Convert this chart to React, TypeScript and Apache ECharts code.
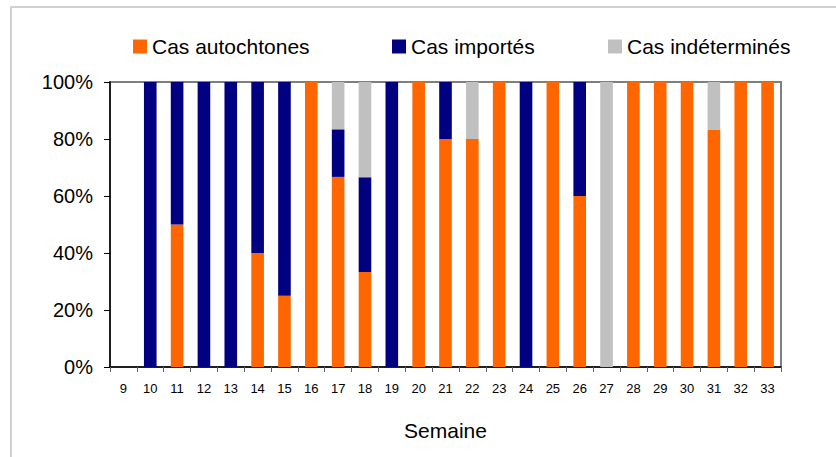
import React, { useEffect, useRef } from "react";
import * as echarts from "echarts";

const weeks = ["9","10","11","12","13","14","15","16","17","18","19","20","21","22","23","24","25","26","27","28","29","30","31","32","33"];
const autochtones = [0,0,50,0,0,40,25,100,66.7,33.3,0,100,80,80,100,0,100,60,0,100,100,100,83.3,100,100];
const importes = [0,100,50,100,100,60,75,0,16.7,33.3,100,0,20,0,0,100,0,40,0,0,0,0,0,0,0];
const indetermines = [0,0,0,0,0,0,0,0,16.6,33.4,0,0,0,20,0,0,0,0,100,0,0,0,16.7,0,0];
const yTicks = [0, 20, 40, 60, 80, 100];

const seriesNames = ["Cas autochtones", "Cas importés", "Cas indéterminés"];
const colors = ["#FF6600", "#000080", "#C0C0C0"];
const FONT = "'Liberation Sans', Arial, sans-serif";

export default function App() {
  const ref = useRef<HTMLDivElement>(null);
  useEffect(() => {
    if (!ref.current) return;
    const chart = echarts.init(ref.current, null, { renderer: "svg" });
    const legendLefts = [133, 392, 608];
    const data = [autochtones, importes, indetermines];
    chart.setOption({
      animation: false,
      backgroundColor: "#ffffff",
      textStyle: { fontFamily: FONT },
      graphic: [
        {
          type: "rect",
          shape: { x: 11, y: 7, width: 900, height: 500 },
          style: { fill: "none", stroke: "#d0d0d0", lineWidth: 2 },
          silent: true,
        },
      ],
      legend: seriesNames.map((n, i) => ({
        data: [n],
        left: legendLefts[i],
        top: 36,
        icon: "rect",
        itemWidth: 14,
        itemHeight: 14,
        itemGap: 0,
        textStyle: { fontSize: 21, color: "#000", fontFamily: FONT, padding: [0, 0, 0, 0] },
        padding: 0,
      })),
      grid: {
        left: 110,
        right: 55,
        top: 82,
        bottom: 90,
        show: true,
        borderColor: "#7f7f7f",
        borderWidth: 2,
        backgroundColor: "#ffffff",
      },
      xAxis: {
        type: "category",
        data: weeks,
        name: "Semaine",
        nameLocation: "middle",
        nameGap: 53,
        nameTextStyle: { fontSize: 21, color: "#000", fontFamily: FONT },
        axisLine: { lineStyle: { color: "#000", width: 1.5 } },
        axisTick: { show: true, alignWithLabel: false, length: 5, lineStyle: { color: "#606060" } },
        axisLabel: { fontSize: 13, color: "#000", margin: 15, interval: 0, fontFamily: FONT },
      },
      yAxis: {
        type: "value",
        min: yTicks[0],
        max: yTicks[yTicks.length - 1],
        interval: 20,
        splitLine: { show: false },
        axisLine: { show: true, lineStyle: { color: "#000", width: 1.5 } },
        axisTick: { show: true, length: 6, lineStyle: { color: "#000" } },
        axisLabel: { formatter: "{value}%", fontSize: 20, color: "#000", margin: 17, fontFamily: FONT },
      },
      series: seriesNames.map((n, i) => ({
        name: n,
        type: "bar",
        stack: "total",
        barWidth: "47%",
        itemStyle: { color: colors[i] },
        data: data[i],
      })),
    });
    return () => chart.dispose();
  }, []);
  return (
    <div
      ref={ref}
      style={{ position: "fixed", left: 0, top: 0, width: 836, height: 457, background: "#fff" }}
    />
  );
}
